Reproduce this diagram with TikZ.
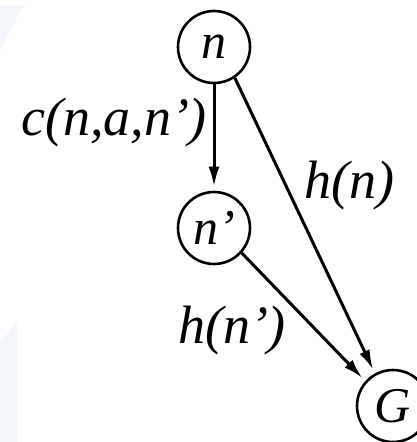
\documentclass[tikz,border=0pt]{standalone}
\usepackage{fontspec}
\newfontfamily\tnr{Liberation Serif}
\usetikzlibrary{arrows.meta}
\definecolor{faintblue}{HTML}{F3F6FA}
\tikzset{
  state/.style={circle, draw=black, line width=2.6pt, minimum size=72pt, inner sep=0pt, font=\tnr\fontsize{50}{50}\selectfont\itshape},
  lbl/.style={font=\tnr\fontsize{54}{54}\selectfont\itshape, inner sep=0pt},
  edge/.style={line width=3pt, shorten >=4pt, -{Latex[length=20pt,width=11pt]}},
  faint/.style={fill=faintblue, draw=none}
}
\begin{document}
\begin{tikzpicture}[x=1pt,y=-1pt]
\useasboundingbox (0,0) rectangle (416,442);
\fill[white] (0,0) rectangle (416,442);
\fill[faint] (0,5) -- (25,5) -- (17,15) -- (17,18) -- (0,50) -- cycle;
\fill[faint] (0,342) -- (17,323) -- (17,442) -- (0,442) -- cycle;
\node[state] (n) at (214,47) {n};
\node[state] (np) at (214,228) {n’};
\node[state] (G) at (393,406) {G};
\draw[edge] (n) -- (np);
\draw[edge] (n.-56) -- (G.119);
\draw[edge] (np.-42) -- (G.138);
\node[lbl] (l1) at (114,123) {c(n,a,n’)};
\node[lbl] (l2) at (349,186) {h(n)};
\node[lbl] (l3) at (232,331) {h(n’)};
\end{tikzpicture}
\end{document}
